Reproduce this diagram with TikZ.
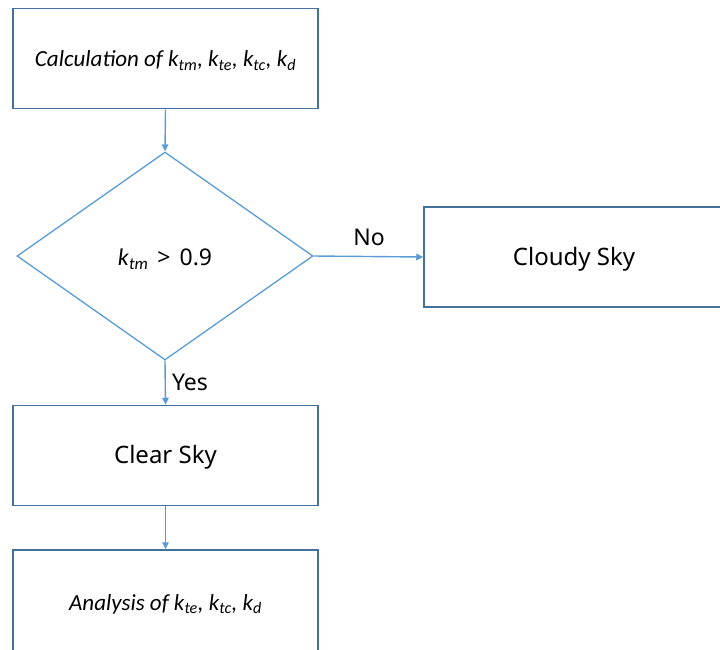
\documentclass[tikz,border=0pt]{standalone}
\usepackage{fontspec}
\setmainfont{Noto Sans}
\newfontfamily\calib{Carlito}
\usetikzlibrary{shapes.geometric,arrows.meta}
\definecolor{boxline}{HTML}{41719C}
\definecolor{arrowline}{HTML}{5B9BD5}
\tikzset{
  stepbox/.style={draw=boxline, line width=1.5pt, rectangle, inner sep=0pt,
    minimum width=305pt, minimum height=100pt, text height=18pt, text depth=2pt,
    font=\fontsize{24}{28}\selectfont},
  decision/.style={draw=arrowline, line width=1.3pt, diamond, inner sep=0pt,
    minimum width=296pt, minimum height=208pt, aspect=1.42},
  flow/.style={draw=arrowline, line width=1.4pt, -{Triangle[length=7pt,width=6.5pt]}},
  lbl/.style={font=\fontsize{23}{26}\selectfont, inner sep=0pt}
}
\newcommand{\kk}[1]{\textit{k}\textsubscript{\textit{#1}}}
\begin{document}
\begin{tikzpicture}[x=1pt,y=-1pt]
  \useasboundingbox (0,0) rectangle (720,649);
  \clip (0,0) rectangle (720,649);
  % process boxes
  \node[stepbox] (calc) at (165.5,58.5)
    {\calib\fontsize{23}{26}\selectfont\itshape Calculation of \kk{tm}, \kk{te}, \kk{tc}, \kk{d}};
  \node[decision] (test) at (165,256) {};
  \node[lbl] (cond) at (165,259)
    {{\calib\fontsize{24}{26}\selectfont\kk{tm}}\hspace{9pt}\textgreater\hspace{9pt}0.9};
  \node[stepbox, minimum width=300pt] (cloudy) at (574,257) {Cloudy Sky};
  \node[stepbox] (clear) at (165.5,455.5) {Clear Sky};
  \node[stepbox, minimum height=104pt] (anal) at (165.5,602)
    {\calib\fontsize{23}{26}\selectfont\itshape Analysis of \kk{te}, \kk{tc}, \kk{d}};
  % connectors
  \draw[flow] (calc.south) -- (test.north);
  \draw[flow] (test.east) -- (cloudy.west);
  \draw[flow] (test.south) -- (clear.north);
  \draw[flow] (clear.south) -- (anal.north);
  % branch labels
  \node[lbl] (no) at (369,237) {No};
  \node[lbl] (yes) at (190,382) {Yes};
\end{tikzpicture}
\end{document}
